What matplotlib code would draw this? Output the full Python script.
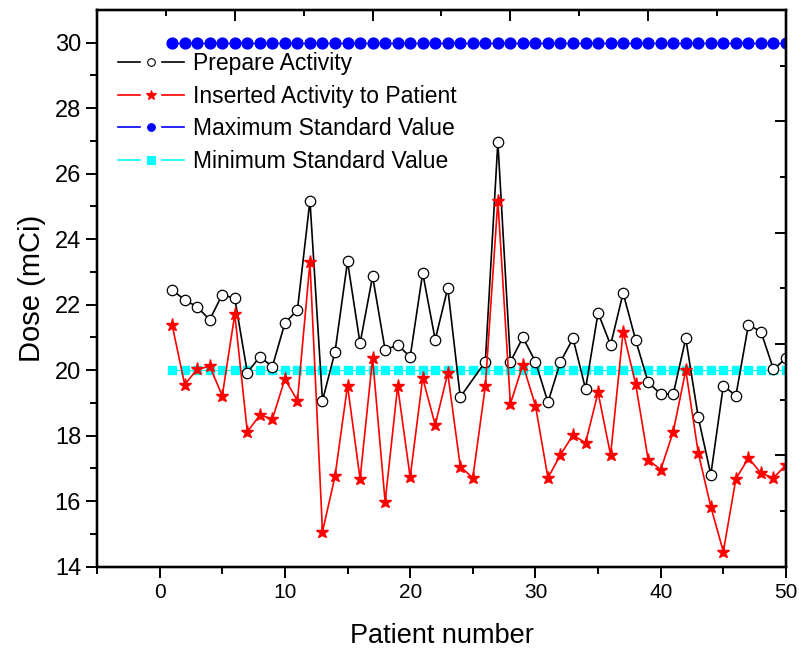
import numpy as np
import matplotlib
matplotlib.use("Agg")
import matplotlib.pyplot as plt
from matplotlib.lines import Line2D
from matplotlib.legend_handler import HandlerBase
from matplotlib.ticker import MultipleLocator, FixedLocator, NullFormatter

plt.rcParams['font.family'] = ['Liberation Sans', 'DejaVu Sans']

patients = np.arange(1, 51)

# prepared activity (mCi), patient 25 has no reading
prepare = [22.45, 22.15, 21.93, 21.54, 22.31, 22.19, 19.93, 20.41, 20.11, 21.44,
           21.84, 25.18, 19.07, 20.56, 23.32, 20.82, 22.87, 20.62, 20.77, 20.41,
           22.97, 20.93, 22.51, 19.18, np.nan, 20.26, 26.97, 20.26, 21.00, 20.26,
           19.02, 20.26, 20.97, 19.43, 21.75, 20.77, 22.36, 20.92, 19.63, 19.27,
           19.27, 20.97, 18.56, 16.81, 19.53, 19.22, 21.38, 21.18, 20.03, 20.36]

inserted = [21.38, 19.56, 20.03, 20.12, 19.22, 21.71, 18.12, 18.63, 18.51, 19.73,
            19.07, 23.29, 15.07, 16.76, 19.53, 16.68, 20.37, 15.98, 19.51, 16.73,
            19.76, 18.33, 19.91, 17.06, 16.71, 19.51, 25.18, 18.97, 20.17, 18.92,
            16.71, 17.42, 18.02, 17.78, 19.32, 17.41, 21.18, 19.58, 17.27, 16.96,
            18.12, 20.00, 17.47, 15.83, 14.46, 16.68, 17.32, 16.86, 16.71, 17.11]

max_std = [30.0] * 50
min_std = [20.0] * 50

labels = ['Prepare Activity', 'Inserted Activity to Patient',
          'Maximum Standard Value', 'Minimum Standard Value']
colors = ['black', 'red', 'blue', 'cyan']


class SplitLine(HandlerBase):
    # line - marker - line, with a gap around the marker (Origin legend look)
    def create_artists(self, legend, h, xdescent, ydescent, width, height,
                       fontsize, trans):
        y = height / 2 - ydescent
        x0 = -xdescent
        x1 = x0 + width
        mid = (x0 + x1) / 2
        gap = 0.17 * width
        c = h.get_color()
        a = Line2D([x0, mid - gap], [y, y], color=c, lw=1.2, transform=trans)
        b = Line2D([mid + gap, x1], [y, y], color=c, lw=1.2, transform=trans)
        d = Line2D([mid], [y], ls='none', marker=h.get_marker(),
                   ms=h.get_markersize(), mfc=h.get_markerfacecolor(),
                   mec=h.get_markeredgecolor(), mew=0.8, transform=trans)
        return [a, b, d]


prepare = np.array(prepare)
ok = ~np.isnan(prepare)

fig = plt.figure(figsize=(7.99, 6.52), dpi=100)
ax = fig.add_axes([0.1214, 0.1308, 0.8623, 0.8539])

ax.plot(patients, max_std, color='blue', lw=0.8, marker='o', ms=7.8,
        mec='blue', mfc='blue', zorder=2)
ax.plot(patients, min_std, color='cyan', lw=0.8, marker='s', ms=6.3,
        mec='cyan', mfc='cyan', zorder=2)
ax.plot(patients[ok], prepare[ok], color='black', lw=1.2, marker='o', ms=7.5,
        mfc='white', mec='black', mew=0.9, zorder=3)
ax.plot(patients, inserted, color='red', lw=1.2, marker='*', ms=9.5,
        mfc='red', mec='red', zorder=4)

ax.set_xlim(-5, 50)
ax.set_ylim(14, 31)

ax.xaxis.set_major_locator(FixedLocator([0, 10, 20, 30, 40, 50]))
ax.xaxis.set_minor_locator(FixedLocator([-5, 5, 15, 25, 35, 45]))
ax.yaxis.set_major_locator(MultipleLocator(2))
ax.yaxis.set_minor_locator(FixedLocator(np.arange(15, 31, 2)))

ax.tick_params(which='both', direction='out', width=1.4,
               top=False, right=False)
ax.tick_params(axis='x', labelsize=15)
ax.tick_params(axis='y', labelsize=17)
ax.tick_params(which='major', length=8)
ax.tick_params(which='minor', length=5)

for s in ax.spines.values():
    s.set_linewidth(1.6)

# Origin-style mirror axes with their own ticks
top = ax.twiny()
top.set_xlim(-5, 50)
tt = np.linspace(-5, 50, 11)
top.xaxis.set_major_locator(FixedLocator(tt[::2]))
top.xaxis.set_minor_locator(FixedLocator(tt[1::2]))
top.xaxis.set_major_formatter(NullFormatter())
top.tick_params(which='both', direction='in', width=1.4)
top.tick_params(which='major', length=8)
top.tick_params(which='minor', length=4)

right = ax.twinx()
right.set_ylim(14, 31)
rt = np.linspace(14, 31, 11)
right.yaxis.set_major_locator(FixedLocator(rt[::2]))
right.yaxis.set_minor_locator(FixedLocator(rt[1::2]))
right.yaxis.set_major_formatter(NullFormatter())
right.tick_params(which='both', direction='in', width=1.4)
right.tick_params(which='major', length=8)
right.tick_params(which='minor', length=4)
for a in (top, right):
    for s in a.spines.values():
        s.set_linewidth(1.6)

ax.set_xlabel('Patient number', fontsize=19.5, labelpad=15)
ax.set_ylabel('Dose (mCi)', fontsize=21, labelpad=6)

mk = ['o', '*', 'o', 's']
handles = []
for c, m in zip(colors, mk):
    fc = 'white' if c == 'black' else c
    handles.append(Line2D([], [], color=c, marker=m,
                          ms=7 if m == '*' else 5.5, mfc=fc, mec=c))

leg = right.legend(handles, labels, handler_map={Line2D: SplitLine()},
                   loc='upper left', bbox_to_anchor=(0.03, 0.925), frameon=False,
                   fontsize=16.5, handlelength=2.9, handletextpad=0.4,
                   labelspacing=0.43, borderpad=0, borderaxespad=0)
leg.set_zorder(10)

fig.savefig('out.png', dpi=100)
